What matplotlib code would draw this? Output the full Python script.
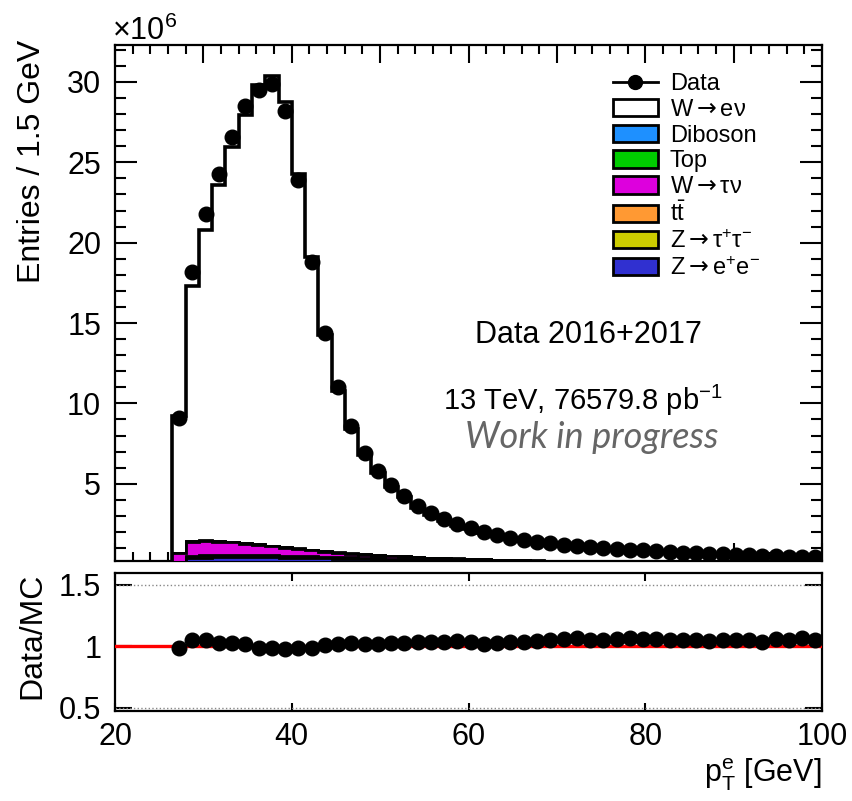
import numpy as np
import matplotlib
matplotlib.use('Agg')
import matplotlib.pyplot as plt
from matplotlib.lines import Line2D
from matplotlib.patches import Patch
from matplotlib.ticker import MultipleLocator, FixedLocator

plt.rcParams['font.family'] = ['Liberation Sans', 'DejaVu Sans']
plt.rcParams['mathtext.fontset'] = 'custom'
plt.rcParams['mathtext.rm'] = 'Liberation Sans'
plt.rcParams['mathtext.it'] = 'Liberation Sans:italic'
plt.rcParams['mathtext.sf'] = 'Liberation Sans'
# bf slot used only to get a long arrow glyph
plt.rcParams['mathtext.bf'] = 'DejaVu Sans'

# binning: 49 bins of 1.5 GeV from 26.5 to 100 GeV
bin_lo = 26.5
bin_width = 1.5
n_bins = 49

# entries per bin, in units of 1e6
data = [9.06, 18.2, 21.8, 24.3, 26.6, 28.5, 29.5, 29.9, 28.2, 23.9,
        18.8, 14.4, 11.0, 8.6, 6.9, 5.8, 4.9, 4.25, 3.6, 3.2,
        2.8, 2.5, 2.25, 2.0, 1.8, 1.6, 1.5, 1.38, 1.3, 1.2,
        1.12, 1.05, 1.0, 0.95, 0.9, 0.85, 0.8, 0.76, 0.72, 0.68,
        0.65, 0.62, 0.59, 0.56, 0.53, 0.5, 0.47, 0.44, 0.42]

# Data/MC ratio per bin
ratio = [0.985, 1.05, 1.05, 1.03, 1.025, 1.02, 0.99, 0.985, 0.98, 0.985,
         0.985, 1.01, 1.02, 1.025, 1.02, 1.02, 1.025, 1.025, 1.04, 1.04,
         1.04, 1.045, 1.04, 1.02, 1.03, 1.04, 1.04, 1.045, 1.055, 1.06,
         1.065, 1.055, 1.055, 1.06, 1.065, 1.06, 1.06, 1.05, 1.05, 1.05,
         1.045, 1.05, 1.05, 1.05, 1.04, 1.06, 1.05, 1.065, 1.05]

# backgrounds (1e6)
zee = [0.05, 0.38, 0.4, 0.42, 0.43, 0.43, 0.42, 0.41, 0.4, 0.39,
       0.37, 0.35, 0.33, 0.31, 0.29, 0.27, 0.25, 0.24, 0.22, 0.2,
       0.19, 0.18, 0.17, 0.16, 0.15, 0.14, 0.13, 0.12, 0.11, 0.1,
       0.095, 0.09, 0.085, 0.08, 0.075, 0.07, 0.065, 0.06, 0.055, 0.05,
       0.048, 0.045, 0.042, 0.04, 0.038, 0.035, 0.033, 0.03, 0.028]
ztautau = [0.04, 0.08, 0.08, 0.07, 0.07, 0.06, 0.06, 0.05, 0.05, 0.04,
           0.04, 0.035, 0.03, 0.03, 0.025, 0.02, 0.02, 0.018, 0.016, 0.014,
           0.012, 0.01, 0.01, 0.009, 0.008, 0.007, 0.006, 0.006, 0.005, 0.005,
           0.004, 0.004, 0.004, 0.003, 0.003, 0.003, 0.003, 0.002, 0.002, 0.002,
           0.002, 0.002, 0.002, 0.001, 0.001, 0.001, 0.001, 0.001, 0.001]
ttbar = [0.03, 0.06, 0.07, 0.08, 0.08, 0.08, 0.08, 0.08, 0.08, 0.08,
         0.07, 0.07, 0.07, 0.07, 0.07, 0.06, 0.06, 0.06, 0.06, 0.05,
         0.05, 0.05, 0.05, 0.05, 0.04, 0.04, 0.04, 0.04, 0.04, 0.035,
         0.035, 0.035, 0.03, 0.03, 0.03, 0.03, 0.025, 0.025, 0.025, 0.025,
         0.02, 0.02, 0.02, 0.02, 0.02, 0.018, 0.018, 0.016, 0.016]
wtaunu = [0.55, 0.88, 0.88, 0.83, 0.78, 0.71, 0.64, 0.56, 0.49, 0.42,
          0.37, 0.31, 0.27, 0.23, 0.2, 0.18, 0.17, 0.15, 0.13, 0.11,
          0.1, 0.09, 0.08, 0.07, 0.06, 0.055, 0.05, 0.045, 0.04, 0.035,
          0.03, 0.03, 0.025, 0.025, 0.02, 0.02, 0.02, 0.015, 0.015, 0.015,
          0.012, 0.012, 0.01, 0.01, 0.01, 0.008, 0.008, 0.008, 0.006]
single_top = [0.01, 0.02, 0.02, 0.02, 0.02, 0.02, 0.02, 0.02, 0.02, 0.02,
              0.018, 0.018, 0.017, 0.016, 0.015, 0.015, 0.014, 0.013, 0.012, 0.012,
              0.011, 0.01, 0.01, 0.01, 0.009, 0.009, 0.008, 0.008, 0.008, 0.007,
              0.007, 0.007, 0.006, 0.006, 0.006, 0.005, 0.005, 0.005, 0.005, 0.004,
              0.004, 0.004, 0.004, 0.004, 0.003, 0.003, 0.003, 0.003, 0.003]
diboson = [0.01, 0.02, 0.02, 0.02, 0.02, 0.02, 0.02, 0.02, 0.02, 0.02,
           0.02, 0.018, 0.017, 0.016, 0.015, 0.014, 0.013, 0.012, 0.012, 0.011,
           0.01, 0.01, 0.01, 0.009, 0.009, 0.009, 0.008, 0.008, 0.008, 0.007,
           0.007, 0.007, 0.007, 0.006, 0.006, 0.006, 0.006, 0.005, 0.005, 0.005,
           0.005, 0.005, 0.004, 0.004, 0.004, 0.004, 0.004, 0.004, 0.004]

edges = bin_lo + bin_width * np.arange(n_bins + 1)
centers = 0.5 * (edges[:-1] + edges[1:])

data = np.array(data)
ratio = np.array(ratio)
mc_total = data / ratio
bkgs = [zee, ztautau, ttbar, wtaunu, single_top, diboson]
wenu = mc_total - np.sum(np.array(bkgs), axis=0)

arrow = r'$\mathbf{\rightarrow}$'
# stack, bottom to top
stack = [
    ('Z' + arrow + r'e$^{+}$e$^{-}$', zee, '#3030d0'),
    ('Z' + arrow + r'τ$^{+}$τ$^{-}$', ztautau, '#cccc00'),
    (r't$\bar{\mathrm{t}}$', ttbar, '#ff9933'),
    ('W' + arrow + 'τν', wtaunu, '#dd00dd'),
    ('Top', single_top, '#00cc00'),
    ('Diboson', diboson, '#1e90ff'),
    ('W' + arrow + 'eν', wenu, 'white'),
]

fig = plt.figure(figsize=(8.52, 8.01), dpi=100)
ax = fig.add_axes([0.135, 0.2996, 0.8298, 0.6442])
rax = fig.add_axes([0.135, 0.1124, 0.8298, 0.1723])

ymin = 0.19
cum = np.cumsum(np.array([s[1] for s in stack], dtype=float), axis=0)
# ROOT-style: draw the full cumulative first, lower ones over it
z = 2
for k in reversed(range(len(stack))):
    lw = 2.6 if k == len(stack) - 1 else 2.0
    ax.stairs(cum[k], edges, baseline=0, fill=True, facecolor=stack[k][2],
              edgecolor='none', zorder=z)
    ax.stairs(cum[k], edges, baseline=0, color='black', lw=lw, zorder=z + 0.5)
    z += 1

ax.plot(centers, data, 'o', color='black', ms=10.5, zorder=20)

ax.set_xlim(20, 100)
ax.set_ylim(ymin, 32.3)
ax.xaxis.set_major_locator(MultipleLocator(10))
ax.xaxis.set_minor_locator(MultipleLocator(2))
ax.yaxis.set_major_locator(FixedLocator([5, 10, 15, 20, 25, 30]))
ax.yaxis.set_minor_locator(MultipleLocator(1))
ax.tick_params(axis='both', which='both', direction='in', top=True, right=True,
               width=1.5, labelbottom=False)
ax.tick_params(axis='x', which='major', length=13)
ax.tick_params(axis='x', which='minor', length=6.5)
ax.tick_params(axis='y', which='major', length=16, labelsize=22, pad=10)
ax.tick_params(axis='y', which='minor', length=8)
for sp in ax.spines.values():
    sp.set_linewidth(1.6)

handles = [Line2D([0], [0], color='black', marker='o', ms=10, lw=2)]
labels = ['Data']
for name, _, col in reversed(stack):
    handles.append(Patch(facecolor=col, edgecolor='black', lw=2))
    labels.append(name)
ax.legend(handles, labels, loc='upper left', bbox_to_anchor=(613 / 852, 1 - 73 / 801),
          bbox_transform=fig.transFigure, frameon=False, fontsize=17,
          handlelength=1.9, handleheight=0.75, labelspacing=0.16,
          handletextpad=0.5, borderpad=0, borderaxespad=0)

fig.text(588 / 852, 1 - 335 / 801, 'Data 2016+2017', ha='center', va='center', fontsize=22)
fig.text(443 / 852, 1 - 400 / 801, r'13 TeV, 76579.8 pb$^{-1}$', ha='left', va='center',
         fontsize=21)
fig.text(592 / 852, 1 - 437 / 801, 'Work in progress', family='Lato', style='italic',
         color='#666666', fontsize=26, ha='center', va='center')
fig.text(112 / 852, 1 - 40 / 801, r'×10$^{6}$', ha='left', va='baseline', fontsize=22)

# ratio panel
rax.axhline(1.5, color='#888888', lw=1, ls=':')
rax.axhline(0.5, color='#888888', lw=1, ls=':')
rax.axhline(1.0, color='red', lw=2.4, zorder=3)
rax.plot(centers, ratio, 'o', color='black', ms=10.5, zorder=5)
rax.set_xlim(20, 100)
rax.set_ylim(0.475, 1.598)
rax.set_yticks([0.5, 1, 1.5])
rax.set_yticklabels(['0.5', '1', '1.5'])
rax.xaxis.set_major_locator(MultipleLocator(20))
rax.tick_params(axis='both', which='both', direction='in', top=True, right=True,
                width=1.5, labelsize=22)
rax.tick_params(axis='y', length=12, pad=10)
rax.tick_params(axis='x', length=6, pad=8)
for sp in rax.spines.values():
    sp.set_linewidth(1.6)

fig.text(32 / 852, 1 - 40 / 801, 'Entries / 1.5 GeV', rotation=90, ha='center', va='top',
         fontsize=23)
fig.text(32 / 852, 1 - 573 / 801, 'Data/MC', rotation=90, ha='center', va='top', fontsize=23)
fig.text(822 / 852, 1 - 775 / 801, r'$\mathrm{p}_{\mathrm{T}}^{\mathrm{e}}$ [GeV]', ha='right',
         va='center', fontsize=22)

fig.savefig('out.png', dpi=100)
